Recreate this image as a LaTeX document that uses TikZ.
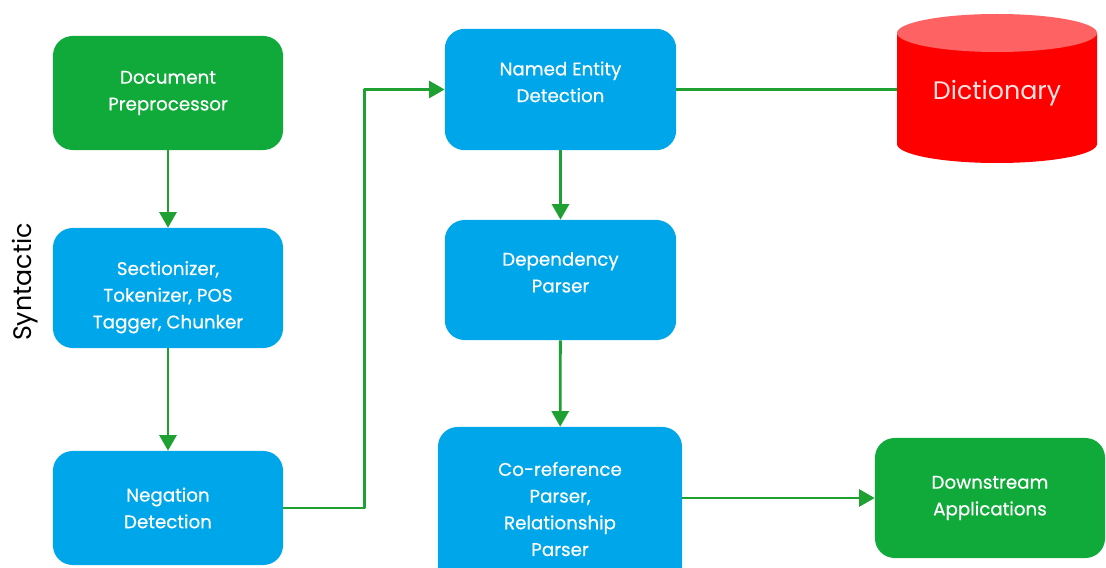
\documentclass[tikz,border=0pt]{standalone}
\usepackage{fontspec}
\setmainfont{Poppins}
\newfontfamily\boxfont{Poppins}[FakeBold=0.5]
\usetikzlibrary{arrows.meta}
\definecolor{boxgreen}{RGB}{16,170,58}
\definecolor{boxblue}{RGB}{0,166,234}
\definecolor{linegreen}{RGB}{30,160,50}
\definecolor{dictred}{RGB}{255,0,0}
\definecolor{dicttop}{RGB}{255,98,98}
\begin{document}
\begin{tikzpicture}[x=0.025cm, y=0.025cm, line join=round,
	blk/.style={rectangle, rounded corners=14pt, text=white, align=center,
		font=\boxfont\fontsize{13}{19}\selectfont, minimum width=5.75cm, minimum height=3cm},
	greenblk/.style={blk, fill=boxgreen},
	blueblk/.style={blk, fill=boxblue},
	flow/.style={draw=linegreen, line width=2pt, -{Triangle[width=12pt,length=11pt]}}]
	\useasboundingbox (0,0) rectangle (1106,567);
	% left column
	\node[greenblk, minimum height=2.85cm] (doc) at (168,474) {Document\\Preprocessor};
	\node[blueblk] (sect) at (168,279) {\mbox{}\\[4pt]Sectionizer,\\Tokenizer, POS\\Tagger, Chunker};
	\node[blueblk, minimum height=2.85cm] (neg) at (168,59) {Negation\\Detection};
	\node[rotate=90, font=\fontsize{18}{21}\selectfont] (syn) at (25,285) {Syntactic};
	% middle column
	\node[blueblk, minimum width=5.78cm, minimum height=3.03cm] (ned) at (560.5,477.5) {Named Entity\\Detection\\[-8pt]\mbox{}};
	\node[blueblk, minimum width=5.78cm] (dep) at (560.5,287) {Dependency\\Parser\\[-8pt]\mbox{}};
	\node[blueblk, minimum width=6.1cm, minimum height=4.1cm] (coref) at (560,58) {Co-reference\\Parser,\\Relationship\\Parser};
	% right column
	\node[greenblk] (down) at (990,69) {Downstream\\Applications};
	\fill[dictred] (897,534) -- (897,423) arc[start angle=180, end angle=360, x radius=100, y radius=19] -- (1097,534) -- cycle;
	\fill[dicttop] (997,534) ellipse[x radius=100, y radius=19];
	\node[minimum width=5cm, minimum height=3.6cm, text={rgb,255:red,255;green,226;blue,226},
		font=\fontsize{18}{22}\selectfont] (dict) at (997,474) {Dictionary};
	% connectors
	\foreach \a/\b in {doc/sect, sect/neg, ned/dep, dep/coref}{
		\draw[flow] (\a) -- (\b);
	}
	\draw[flow] (neg.east) -- ++(81,0) |- (ned.west);
	\draw[flow, -] (ned.east) -- (dict.west |- ned.east);
	\draw[flow] (coref.east |- down.west) -- (down.west);
\end{tikzpicture}
\end{document}
